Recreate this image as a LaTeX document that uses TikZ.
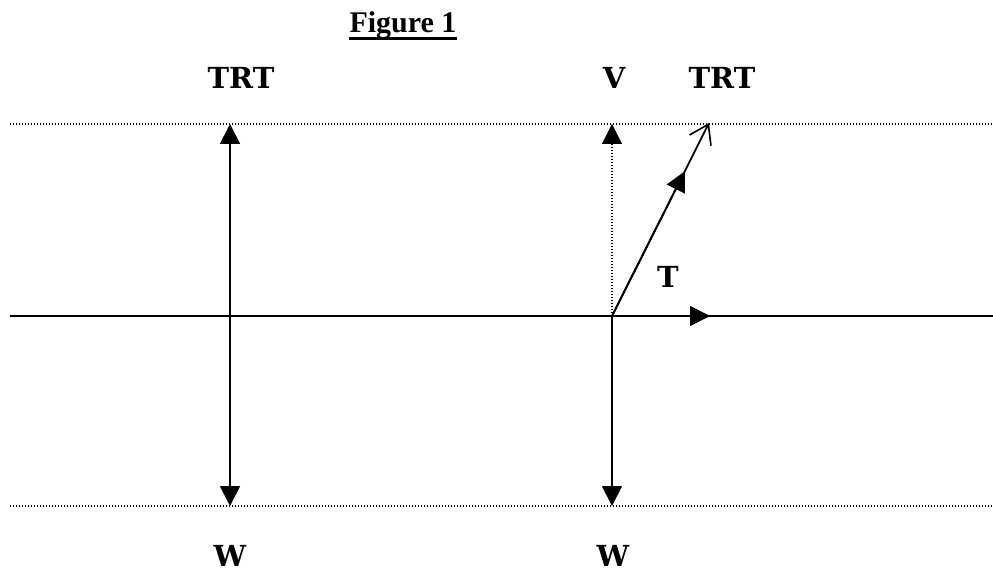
\documentclass[tikz,border=0pt]{standalone}
\usepackage{fontspec}
\setmainfont{Liberation Serif}
\newfontfamily\labfont{DejaVu Serif}
\usetikzlibrary{arrows.meta,calc}
\begin{document}
\begin{tikzpicture}[x=1pt,y=-1pt,
  solidline/.style={line width=1.8pt},
  dotline/.style={line width=1.2pt, dash pattern=on 1.2pt off 1.8pt},
  lab/.style={font={\labfont\bfseries\fontsize{29}{34}\selectfont}, inner sep=0pt}]
\useasboundingbox (0,0) rectangle (993,572);
% title
\node[font={\bfseries\fontsize{30}{35}\selectfont}, inner sep=0pt, anchor=base] (title) at (403,33) {Figure 1};
\draw[line width=3pt] ($(title.base west)+(0,6)$) -- ($(title.base east)+(0,6)$);
% horizontal lines
\coordinate (tl) at (10,124); \coordinate (tr) at (993,124);
\coordinate (bl) at (10,506); \coordinate (br) at (993,506);
\coordinate (ml) at (10,316); \coordinate (mr) at (993,316);
\draw[dotline] (tl) -- (tr);
\draw[dotline] (bl) -- (br);
\draw[solidline] (ml) -- (mr);
% left vertical
\coordinate (A) at (230,316);
\coordinate (Atop) at (230,124);
\coordinate (Abot) at (230,506);
\draw[solidline, -{Triangle[width=20pt,length=20pt]}] (A) -- (Atop);
\draw[solidline, -{Triangle[width=20pt,length=20pt]}] (A) -- (Abot);
% right vertical
\coordinate (O) at (612,316);
\coordinate (Otop) at (612,124);
\coordinate (Obot) at (612,506);
\draw[dotline, -{Triangle[width=20pt,length=20pt]}] (O) -- (Otop);
\draw[solidline, -{Triangle[width=20pt,length=20pt]}] (O) -- (Obot);
% slanted resultant
\coordinate (P) at (709,123);
\draw[line width=1.8pt, -{Straight Barb[length=18pt,width=24pt,line width=1.6pt]}] (O) -- (P);
\draw[line width=1.8pt, -{Triangle[width=20pt,length=20pt]}] (O) -- ($(O)!0.75!(P)$);
% T arrow
\coordinate (Tt) at (710,316);
\draw[solidline, -{Triangle[width=20pt,length=20pt]}] (O) -- (Tt);
% labels
\node[lab] (trt1) at (241,78) {TRT};
\node[lab] (v) at (614,78) {V};
\node[lab] (trt2) at (722,78) {TRT};
\node[lab] (t) at (668,277) {T};
\node[lab] (w1) at (230,556) {W};
\node[lab] (w2) at (613,556) {W};
\end{tikzpicture}
\end{document}
